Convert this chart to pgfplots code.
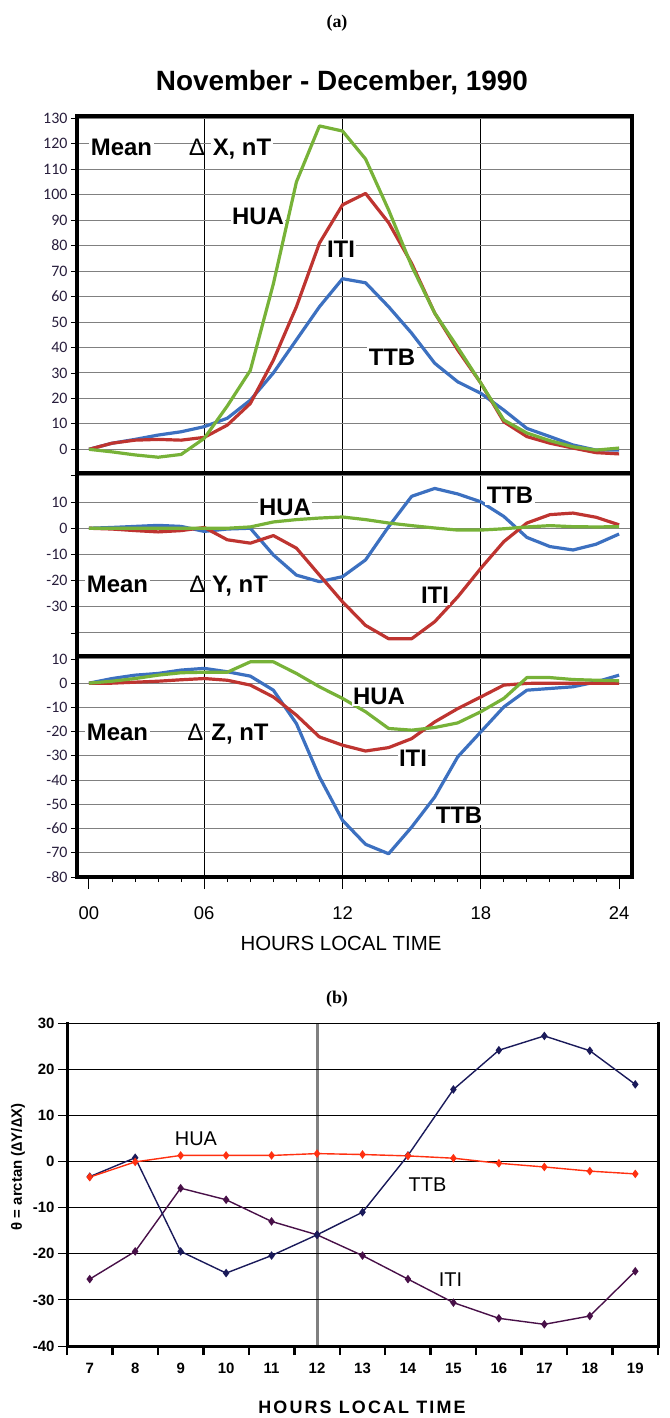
\documentclass[border=0pt]{standalone}
\usepackage{fontspec}
\setmainfont{Liberation Sans}
\newfontfamily\carlito{Carlito}
\newfontfamily\lserif{Liberation Serif}
\newfontfamily\spaced[LetterSpace=12]{Liberation Sans}
\usepackage{pgfplots}
\usepackage{pgfplotstable}
\pgfplotsset{compat=1.18}
\definecolor{cG}{RGB}{119,178,56}
\definecolor{cR}{RGB}{190,52,48}
\definecolor{cB}{RGB}{60,112,192}
\definecolor{bHUA}{RGB}{255,48,16}
\definecolor{bTTB}{RGB}{26,26,90}
\definecolor{bITI}{RGB}{72,16,72}
\definecolor{tickc}{RGB}{40,30,60}

\pgfplotstableread{
p hua iti ttb
0 0 0 0
1 -1 2.4 2.4
2 -2.2 3.6 3.9
3 -3.1 3.9 5.6
4 -2 3.6 6.9
5 4.3 4.7 8.9
6 17 9.5 12.2
7 31 18 19.3
8 65 35 30
9 105 56 43
10 127 81 56
11 125 96 67
12 114 100.5 65.4
13 94 89 56
14 72 73 45.6
15 53.5 53.5 33.8
16 40 39 26.5
17 26 26 22
18 11.5 10.8 15.4
19 6.4 5 8.2
20 3.4 2.4 5
21 1 0.5 1.7
22 -0.3 -1.3 -0.3
23 0.5 -1.8 -0.3
}\tX

\pgfplotstableread{
p hua iti ttb
0 0 0 0
1 0 -0.3 0.3
2 0 -0.9 0.7
3 0 -1.4 1.1
4 0 -0.9 0.7
5 0 0.3 -1.2
6 0 -4.4 -0.3
7 0.5 -5.7 0
8 2.4 -2.8 -10.2
9 3.3 -7.6 -17.9
10 3.9 -17.9 -20.4
11 4.3 -28.1 -18.5
12 3.3 -37.1 -12.1
13 2 -42.2 0.6
14 1 -42.2 12.2
15 0.1 -35.7 15.2
16 -0.7 -26.2 13.1
17 -0.7 -15.3 10.1
18 -0.2 -5.1 4.5
19 0.5 2 -3.5
20 1 5.2 -7
21 0.6 5.8 -8.3
22 0.5 4.2 -6.1
23 0.6 1.3 -2.2
}\tY

\pgfplotstableread{
p hua iti ttb
0 0 0 0
1 0.8 0 1.9
2 1.9 0.4 3.3
3 3.3 0.8 4
4 4.3 1.4 5.4
5 4.5 1.9 6.1
6 4.5 1.2 4.7
7 8.8 -0.8 2.9
8 8.8 -5.7 -2.9
9 4 -13.2 -16.7
10 -1.5 -22.2 -38.7
11 -6.3 -25.6 -56.6
12 -11.8 -28 -66.5
13 -18.7 -26.6 -70.4
14 -19.4 -22.9 -59.4
15 -18.3 -16 -47
16 -16.4 -10.5 -30.4
17 -11.8 -5.7 -20.1
18 -6.3 -0.8 -9.8
19 2.3 -0.1 -2.9
20 2.3 0 -2.2
21 1.5 0 -1.5
22 1.2 0 0.5
23 1 0 3.3
}\tZ

\pgfplotstableread{
h hua ttb iti
7 -3.4 -3.3 -25.5
8 -0.1 0.8 -19.5
9 1.3 -19.5 -5.8
10 1.3 -24.2 -8.3
11 1.3 -20.4 -13
12 1.7 -15.9 -15.9
13 1.5 -11 -20.4
14 1.2 1.3 -25.5
15 0.7 15.6 -30.6
16 -0.4 24.1 -34
17 -1.2 27.2 -35.3
18 -2.1 24 -33.5
19 -2.7 16.7 -23.8
}\tB

\newcommand\lab[1]{{\fontsize{24}{24}\selectfont\bfseries #1}}
\newcommand\dl{{\fontsize{24}{24}\selectfont ∆}}

\begin{document}
\begin{tikzpicture}
\useasboundingbox (0,0) rectangle (670bp,-1418bp);
\pgfplotsset{
  ap/.style={scale only axis, width=555bp, xmin=-0.52, xmax=23.56, anchor=north west,
    axis line style={line width=3.5bp},
    ymajorgrids, major y grid style={gray, line width=1bp},
    xmajorgrids, major x grid style={black, line width=1.1bp},
    ytick pos=left, tick align=outside, major tick length=6bp,
    y tick style={black, line width=0.8bp},
    yticklabel style={font=\carlito\fontsize{16}{16}\selectfont, text=tickc},
    /pgf/number format/assume math mode=true,
    every axis plot/.append style={line width=3.2bp, line join=round, no markers}},
  apx/.style={xtick={5,11,17}, xticklabels={}, x tick style={draw=none}},
}
% X panel
\begin{axis}[ap, apx, at={(77bp,-116bp)}, height=357bp, ymin=-9.3, ymax=130.9,
  ytick={0,10,...,130}]
\addplot[cB] table[x=p,y=ttb]{\tX};
\addplot[cR] table[x=p,y=iti]{\tX};
\addplot[cG] table[x=p,y=hua]{\tX};
\end{axis}
% Y panel
\begin{axis}[ap, apx, at={(77bp,-473bp)}, height=183bp, ymin=-48.8, ymax=21.1,
  ytick={-40,-30,...,20}, yticklabels={,-30,-20,-10,0,10,}]
\addplot[cB] table[x=p,y=ttb]{\tY};
\addplot[cR] table[x=p,y=iti]{\tY};
\addplot[cG] table[x=p,y=hua]{\tY};
\end{axis}
% Z panel
\begin{axis}[ap, at={(77bp,-656bp)}, height=221bp, ymin=-80, ymax=11.2,
  ytick={-80,-70,...,10},
  xtick={5,11,17}, xticklabels={}, xtick pos=bottom,
  minor xtick={0,...,23}, minor tick length=5bp,
  extra x ticks={0,5,11,17,23}, extra x tick labels={00,06,12,18,24},
  extra x tick style={grid=none, major tick length=12bp},
  xticklabel style={font=\fontsize{18.5}{18.5}\selectfont, yshift=-14bp},
  x tick style={black, line width=1bp}]
\addplot[cB] table[x=p,y=ttb]{\tZ};
\addplot[cR] table[x=p,y=iti]{\tZ};
\addplot[cG] table[x=p,y=hua]{\tZ};
\end{axis}

% panel (a) texts
\node[anchor=base] at (337bp,-27bp) {\lserif\bfseries\fontsize{18}{18}\selectfont (a)};
\node[anchor=base] at (342bp,-90bp) {\fontsize{28}{28}\selectfont\bfseries November - December, 1990};
\begin{scope}[every node/.style={anchor=base, inner sep=1.5bp}]
\node[fill=white] at (121.5bp,-155bp) {\lab{Mean}};
\node at (197bp,-155bp) {\dl};
\node[fill=white] at (242bp,-155bp) {\lab{X, nT}};
\node[fill=white] at (258bp,-224bp) {\lab{HUA}};
\node[fill=white] at (341bp,-257bp) {\lab{ITI}};
\node[fill=white] at (392bp,-365bp) {\lab{TTB}};
\node[fill=white] at (117.5bp,-592bp) {\lab{Mean}};
\node at (197.5bp,-592bp) {\dl};
\node[fill=white] at (240bp,-592bp) {\lab{Y, nT}};
\node[fill=white] at (285bp,-515bp) {\lab{HUA}};
\node[fill=white] at (510bp,-503bp) {\lab{TTB}};
\node[fill=white] at (435bp,-603bp) {\lab{ITI}};
\node[fill=white] at (117.5bp,-740bp) {\lab{Mean}};
\node at (195.5bp,-740bp) {\dl};
\node[fill=white] at (240bp,-740bp) {\lab{Z, nT}};
\node[fill=white] at (379bp,-704bp) {\lab{HUA}};
\node[fill=white] at (413bp,-766bp) {\lab{ITI}};
\node[fill=white] at (459bp,-823bp) {\lab{TTB}};
\end{scope}
\node[anchor=base] at (341bp,-950bp) {\fontsize{20.5}{20.5}\selectfont HOURS LOCAL TIME};

% panel (b)
\node[anchor=base] at (337bp,-1003bp) {\lserif\bfseries\fontsize{18}{18}\selectfont (b)};
\begin{axis}[scale only axis, at={(67bp,-1023bp)}, anchor=north west,
  width=591bp, height=323bp, xmin=6.5, xmax=19.5, ymin=-40, ymax=30,
  axis line style={line width=1bp},
  ytick={-40,-30,...,30}, ytick pos=left, ymajorgrids,
  major y grid style={black, line width=0.9bp},
  xtick={6.5,7.5,...,19.5}, xticklabels={}, xtick pos=bottom,
  tick align=outside, major tick length=9bp,
  x tick style={black, line width=2.5bp}, y tick style={black, line width=1bp},
  extra x ticks={7,8,...,19}, extra x tick style={grid=none, major tick length=0pt},
  minor xtick={12}, xminorgrids, minor x grid style={gray, line width=3bp}, minor tick length=0pt,
  /pgf/number format/assume math mode=true,
  ticklabel style={font=\bfseries\fontsize{15}{15}\selectfont},
  xticklabel style={yshift=-14bp},
  every axis plot/.append style={line width=1.4bp, mark=diamond*, mark size=3.2bp}]
\addplot[bITI] table[x=h,y=iti]{\tB};
\addplot[bTTB] table[x=h,y=ttb]{\tB};
\addplot[bHUA] table[x=h,y=hua]{\tB};
\end{axis}
\draw[line width=3bp, line cap=rect] (67bp,-1023bp)--(67bp,-1346bp)--(658bp,-1346bp)--(658bp,-1023bp);
\node[anchor=base] at (196bp,-1145bp) {\fontsize{20}{20}\selectfont HUA};
\node[anchor=base] at (427.5bp,-1191bp) {\fontsize{20}{20}\selectfont TTB};
\node[anchor=base] at (450.5bp,-1286bp) {\fontsize{20}{20}\selectfont ITI};
\node[rotate=90] at (18bp,-1167bp) {\bfseries\fontsize{15}{15}\selectfont θ = arctan (∆Y/∆X)};
\node[anchor=base] at (362bp,-1413bp) {\spaced\bfseries\fontsize{18}{18}\selectfont HOURS LOCAL TIME};
\end{tikzpicture}
\end{document}
